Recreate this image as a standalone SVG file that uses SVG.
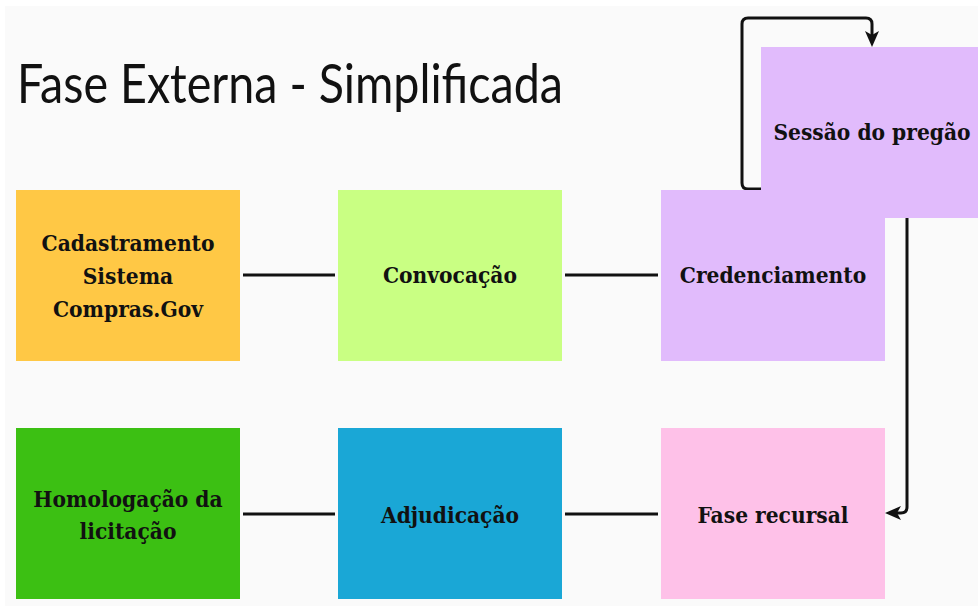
<svg xmlns="http://www.w3.org/2000/svg" width="978" height="606" viewBox="0 0 978 606">
<style>
.lbl{font-family:"DejaVu Serif Condensed","DejaVu Serif",serif;font-weight:bold;font-size:22.5px;fill:#111;text-anchor:middle}
.title{font-family:Lato,"Liberation Sans",sans-serif;font-size:54px;fill:#111}
.con{fill:none;stroke:#111;stroke-width:3;stroke-linejoin:round;stroke-linecap:butt}
</style>
<rect x="0" y="0" width="978" height="606" fill="#ffffff"/>
<rect x="5" y="6" width="973" height="600" fill="#fafafa"/>
<text class="title" x="17" y="103" textLength="546" lengthAdjust="spacingAndGlyphs">Fase Externa - Simplificada</text>

<g id="connectors">
<line class="con" x1="243" y1="275" x2="335" y2="275"/>
<line class="con" x1="565" y1="275" x2="658" y2="275"/>
<line class="con" x1="243" y1="514" x2="335" y2="514"/>
<line class="con" x1="565" y1="514" x2="658" y2="514"/>
<path class="con" d="M802,189 H748 Q742,189 742,183 V24 Q742,18 748,18 H866 Q872,18 872,24 V40"/>
<path d="M865,31 L872,47 L879,31 L872,35 Z" fill="#111"/>
<path class="con" d="M907,218 V507 Q907,513 901,513 H894"/>
<path d="M901,506 L885,513 L901,520 L897,513 Z" fill="#111"/>
</g>

<g id="node-cadastramento">
<rect x="16" y="190" width="224" height="171" fill="#ffc845"/>
<text class="lbl" x="128" y="251">Cadastramento</text>
<text class="lbl" x="128" y="284">Sistema</text>
<text class="lbl" x="128" y="317">Compras.Gov</text>
</g>
<g id="node-convocacao">
<rect x="338" y="190" width="224" height="171" fill="#c9ff83"/>
<text class="lbl" x="450" y="283">Convocação</text>
</g>
<g id="node-credenciamento">
<rect x="661" y="190" width="224" height="171" fill="#e1bbfc"/>
<text class="lbl" x="773" y="283">Credenciamento</text>
</g>
<g id="node-sessao">
<rect x="761" y="47" width="217" height="171" fill="#e1bbfc"/>
<text class="lbl" x="872" y="140">Sessão do pregão</text>
</g>
<g id="node-homologacao">
<rect x="16" y="428" width="224" height="171" fill="#3cc013"/>
<text class="lbl" x="128" y="507">Homologação da</text>
<text class="lbl" x="128" y="539">licitação</text>
</g>
<g id="node-adjudicacao">
<rect x="338" y="428" width="224" height="171" fill="#1aa7d6"/>
<text class="lbl" x="450" y="523">Adjudicação</text>
</g>
<g id="node-recursal">
<rect x="661" y="428" width="224" height="171" fill="#fec1e8"/>
<text class="lbl" x="773" y="523">Fase recursal</text>
</g>
</svg>
